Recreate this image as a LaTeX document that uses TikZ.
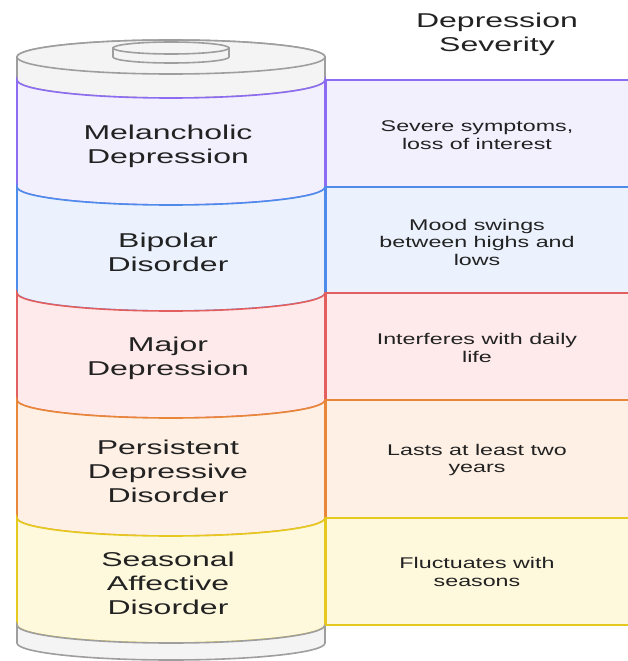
\documentclass[tikz,border=0pt]{standalone}
\usepackage{fontspec}
\setmainfont[FakeStretch=1.6]{Liberation Sans}
\newfontfamily\notefont[FakeStretch=1.5]{Liberation Sans}

\definecolor{inkgray}{HTML}{222222}
\definecolor{capline}{HTML}{9E9E9E}
\definecolor{capfill}{HTML}{F4F4F4}
\definecolor{melline}{HTML}{8C6CF0}
\definecolor{melfill}{HTML}{F3F0FE}
\definecolor{bipline}{HTML}{4F8BEA}
\definecolor{bipfill}{HTML}{EBF2FE}
\definecolor{majline}{HTML}{E35F5F}
\definecolor{majfill}{HTML}{FEEAEA}
\definecolor{perline}{HTML}{E8873A}
\definecolor{perfill}{HTML}{FEF0E4}
\definecolor{sealine}{HTML}{E6C91E}
\definecolor{seafill}{HTML}{FEF8DC}

\begin{document}
\begin{tikzpicture}[x=1pt,y=-1pt,line width=1.6pt,
  layertext/.style={text=inkgray,font=\fontsize{20}{24}\selectfont,align=center},
  notetext/.style={text=inkgray,font=\notefont\fontsize{15.5}{17.5}\selectfont,align=center}]
\useasboundingbox (0,0) rectangle (627,661);

% lid of the battery
\draw[draw=capline,fill=capfill] (17,57) -- (17,80) arc[start angle=180,end angle=0,x radius=154,y radius=18] -- (325,57) arc[start angle=0,end angle=-180,x radius=154,y radius=17] -- cycle;
\draw[draw=capline,fill=capfill] (171,57) ellipse[x radius=154,y radius=17];
\draw[draw=capline,fill=capfill] (113,48) -- (113,57) arc[start angle=180,end angle=0,x radius=58,y radius=6] -- (229,48) -- cycle;
\draw[draw=capline,fill=capfill] (171,48) ellipse[x radius=58,y radius=6];

% layers
\draw[draw=melline,fill=melfill] (17,80) arc[start angle=180,end angle=0,x radius=154,y radius=18] -- (325,187) arc[start angle=0,end angle=180,x radius=154,y radius=18] -- cycle;
\draw[draw=bipline,fill=bipfill] (17,187) arc[start angle=180,end angle=0,x radius=154,y radius=18] -- (325,293) arc[start angle=0,end angle=180,x radius=154,y radius=18] -- cycle;
\draw[draw=majline,fill=majfill] (17,293) arc[start angle=180,end angle=0,x radius=154,y radius=18] -- (325,400) arc[start angle=0,end angle=180,x radius=154,y radius=18] -- cycle;
\draw[draw=perline,fill=perfill] (17,400) arc[start angle=180,end angle=0,x radius=154,y radius=18] -- (325,518) arc[start angle=0,end angle=180,x radius=154,y radius=18] -- cycle;
\draw[draw=sealine,fill=seafill] (17,518) arc[start angle=180,end angle=0,x radius=154,y radius=18] -- (325,625) arc[start angle=0,end angle=180,x radius=154,y radius=18] -- cycle;

% base
\draw[draw=capline,fill=capfill] (17,625) arc[start angle=180,end angle=0,x radius=154,y radius=18] -- (325,643) arc[start angle=0,end angle=180,x radius=154,y radius=17] -- cycle;

% panels on the right
\draw[draw=melline,fill=melfill] (326,80) rectangle (640,187);
\draw[draw=bipline,fill=bipfill] (326,187) rectangle (640,293);
\draw[draw=majline,fill=majfill] (326,293) rectangle (640,400);
\draw[draw=perline,fill=perfill] (326,400) rectangle (640,518);
\draw[draw=sealine,fill=seafill] (326,518) rectangle (640,625);

\node[layertext] (title) at (497,34) {Depression\\Severity};

\node[layertext] (melancholic) at (168,146) {Melancholic\\Depression};
\node[layertext] (bipolar) at (168,252) {Bipolar\\Disorder};
\node[layertext] (major) at (168,358) {Major\\Depression};
\node[layertext] (persistent) at (168,471) {Persistent\\Depressive\\Disorder};
\node[layertext] (seasonal) at (168,583) {Seasonal\\Affective\\Disorder};

\node[notetext] (melancholicnote) at (477,135) {Severe symptoms,\\loss of interest};
\node[notetext] (bipolarnote) at (477,242) {Mood swings\\between highs and\\lows};
\node[notetext] (majornote) at (477,348) {Interferes with daily\\life};
\node[notetext] (persistentnote) at (477,460) {Lasts at least two\\years};
\node[notetext] (seasonalnote) at (477,572) {Fluctuates with\\seasons};
\end{tikzpicture}
\end{document}
